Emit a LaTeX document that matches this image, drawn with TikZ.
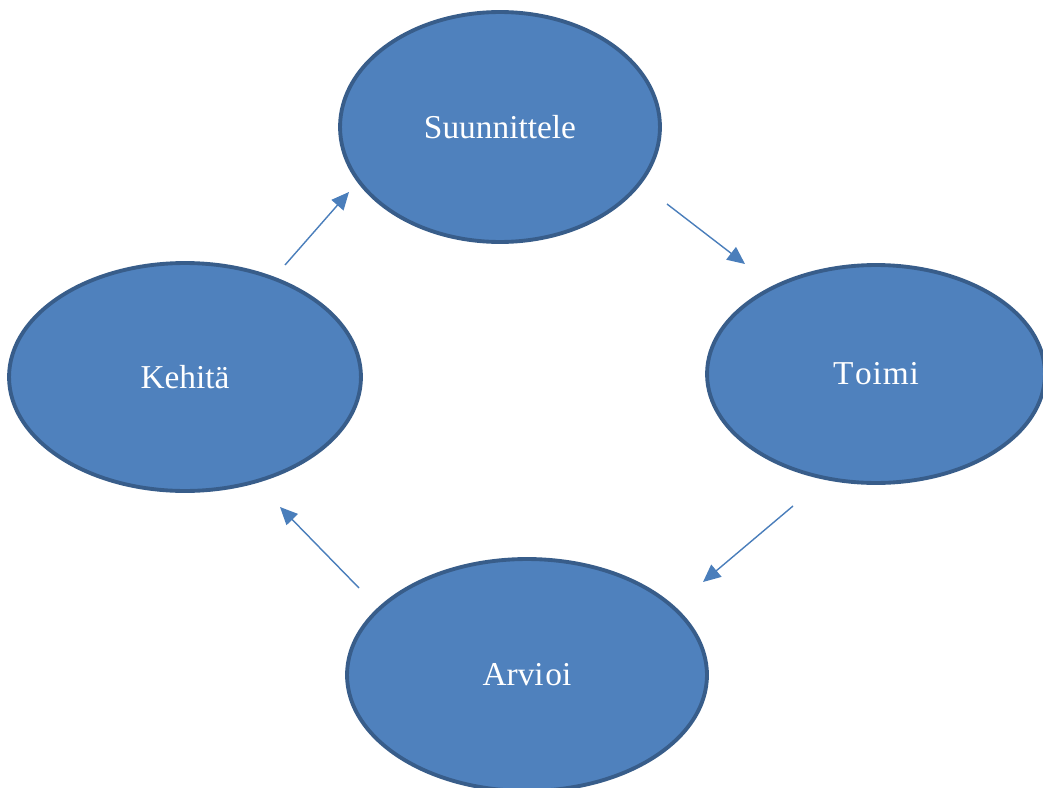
\documentclass[tikz,border=0pt]{standalone}
\usepackage{fontspec}
\setmainfont{Liberation Serif}
\usepackage{xcolor}
\usetikzlibrary{calc,arrows.meta,shapes.geometric}
\definecolor{phasefill}{HTML}{4F81BD}
\definecolor{phaseline}{HTML}{385D8A}
\definecolor{arrowblue}{HTML}{4A7EBB}

\begin{document}
\begin{tikzpicture}
	[   x=0.02cm,y=-0.02cm,
		enode/.style={draw=phaseline,line width=2.2pt,fill=phasefill,ellipse,inner sep=0pt,text=white,font=\fontsize{19}{22}\selectfont},
	]
	\tikzset{normal arrow/.style={draw=arrowblue,line width=0.8pt,-{Triangle[length=10pt,width=9pt]}}}
	\useasboundingbox (0,0) rectangle (1043,787);
	\clip (0,0) rectangle (1043,787);
	
	\node[enode,minimum width=6.4cm,minimum height=4.6cm] (s) at (500,127) {Suunnittele};
	\node[enode,minimum width=6.76cm,minimum height=4.36cm] (t) at (876,374) {T\kern1pt o\kern0.5pt i\kern0.5pt m\kern0.5pt i};
	\node[enode,minimum width=7.2cm,minimum height=4.64cm] (a) at (527,675) {Arvi\kern1pt oi};
	\node[enode,minimum width=7.04cm,minimum height=4.56cm] (k) at (185,377) {Kehitä};
	
	% free ends of the arrows
	\coordinate (k-out) at (285,265);
	\coordinate (s-in) at (349,192);
	\coordinate (s-out) at (667,204);
	\coordinate (t-in) at (745,264);
	\coordinate (t-out) at (793,506);
	\coordinate (a-in) at (703,582);
	\coordinate (a-out) at (359,588);
	\coordinate (k-in) at (280,507);
	
	\path[normal arrow] (k-out) -- (s-in);
	\path[normal arrow] (s-out) -- (t-in);
	\path[normal arrow] (t-out) -- (a-in);
	\path[normal arrow] (a-out) -- (k-in);
\end{tikzpicture}
\end{document}
